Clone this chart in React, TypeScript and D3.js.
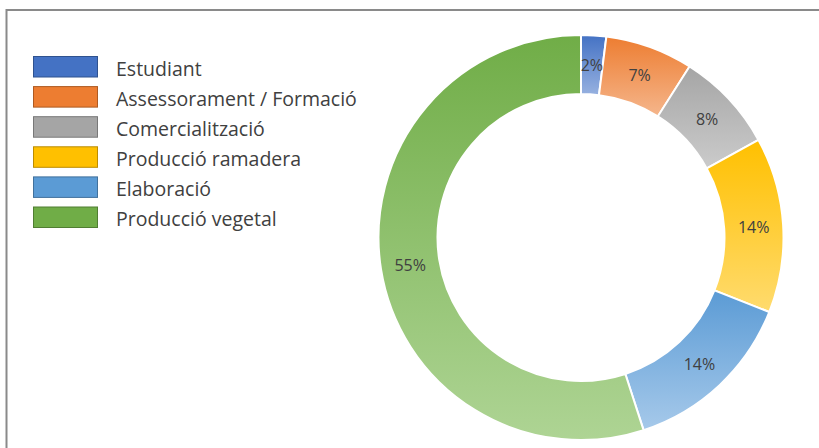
import React from "react";
import * as d3 from "d3";

const categories = ["Estudiant", "Assessorament / Formació", "Comercialització", "Producció ramadera", "Elaboració", "Producció vegetal"];
const values = [2, 7, 8, 14, 14, 55];
const labels = ["2%", "7%", "8%", "14%", "14%", "55%"];
const darkColors = ["#4472C4", "#ED7D31", "#A5A5A5", "#FFC000", "#5B9BD5", "#70AD47"];
const lightColors = ["#97B1E0", "#F5B68C", "#CBCBCB", "#FFDB6E", "#A6C9EA", "#AED494"];
const legendStroke = ["#2F528F", "#AE5A21", "#787878", "#BC8C00", "#41719C", "#507E32"];

export default function App() {
  const W = 819, H = 448;
  const cx = 581, cy = 237.5, rOuter = 202.5, rInner = 143.5;
  const pie = d3.pie<number>().sort(null).value((d) => d);
  const arcs = pie(values);
  const arcGen = d3.arc<d3.PieArcDatum<number>>().innerRadius(rInner).outerRadius(rOuter);
  const legendY = d3.scaleLinear().domain([0, 1]).range([66.5, 96.6]);
  const font = "'Open Sans', 'Noto Sans', sans-serif";

  return (
    <svg width={W} height={H} style={{ position: "absolute", left: 0, top: 0, background: "#fff" }}>
      <defs>
        {categories.map((c, i) => (
          <linearGradient key={c} id={`g${i}`} x1="0" y1="0" x2="0" y2="1">
            <stop offset="0" stopColor={darkColors[i]} />
            <stop offset="1" stopColor={lightColors[i]} />
          </linearGradient>
        ))}
      </defs>
      <rect x={0} y={0} width={W} height={H} fill="#fff" />
      <line x1={6.5} y1={10} x2={W} y2={10} stroke="#8a8a8a" strokeWidth={2} />
      <line x1={6.5} y1={9} x2={6.5} y2={H} stroke="#8a8a8a" strokeWidth={2} />
      <g transform={`translate(${cx},${cy})`}>
        {arcs.map((a, i) => (
          <path key={i} d={arcGen(a) || ""} fill={`url(#g${i})`} stroke="#fff" strokeWidth={2} />
        ))}
        {arcs.map((a, i) => {
          const [x, y] = arcGen.centroid(a);
          return (
            <text key={i} x={x} y={y} textAnchor="middle" dominantBaseline="central"
              fontFamily={font} fontSize={16} fill="#404040">{labels[i]}</text>
          );
        })}
      </g>
      <g>
        {categories.map((c, i) => {
          const y = legendY(i);
          return (
            <g key={c}>
              <rect x={33.5} y={y - 10} width={64} height={20.5} fill={darkColors[i]} stroke={legendStroke[i]} strokeWidth={1} />
              <text x={116} y={y + 9} fontFamily={font} fontSize={19.5} fill="#404040">{c}</text>
            </g>
          );
        })}
      </g>
    </svg>
  );
}
